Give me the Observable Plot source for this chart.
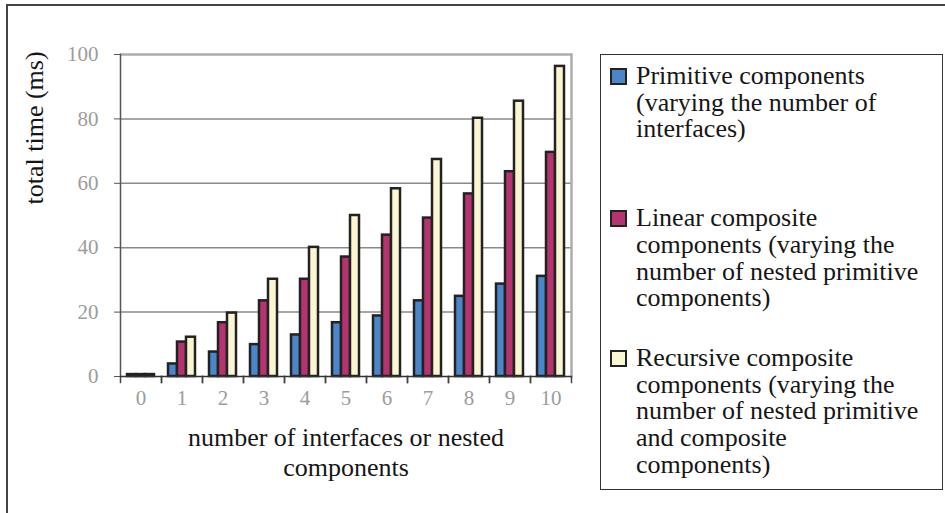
<!DOCTYPE html>
<html><head><meta charset="utf-8">
<script src="https://cdn.jsdelivr.net/npm/d3@7"></script>
<script src="https://cdn.jsdelivr.net/npm/@observablehq/plot@0.6"></script>
<style>
body{margin:0;background:#fff;font-family:"Liberation Serif","Times New Roman",serif;}
#wrap{position:relative;width:945px;height:513px;overflow:hidden;background:#fff;}
#frame{position:absolute;left:6px;top:4px;width:960px;height:540px;border-top:2px solid #444;border-left:2px solid #444;}
#chart{position:absolute;left:0;top:0;}
#legend{position:absolute;left:600px;top:54px;width:343px;height:436px;border:1.5px solid #333;box-sizing:border-box;background:#fff;}
.entry{position:relative;padding-left:35px;font-size:26px;line-height:26.7px;color:#161616;white-space:nowrap;}
.sw{position:absolute;left:9px;top:5px;width:13px;height:13px;border:2px solid #222;}
</style></head>
<body><div id="wrap"><div id="frame"></div><div id="chart"></div><div id="legend"></div></div>
<script>
const categories = ["0","1","2","3","4","5","6","7","8","9","10"];
const seriesNames = ["Primitive", "Linear", "Recursive"];
const primitive = [0.6, 3.9, 7.6, 9.9, 12.9, 16.7, 18.8, 23.5, 24.9, 28.7, 31.1];
const linear    = [0.6, 10.7, 16.7, 23.5, 30.2, 37.1, 43.9, 49.2, 56.7, 63.6, 69.6];
const recursive = [0.6, 12.2, 19.7, 30.2, 40.1, 50.0, 58.3, 67.4, 80.2, 85.5, 96.3];
const yTicks = [0, 20, 40, 60, 80, 100];
const colors = ["#4a86c8", "#b5346f", "#faf6d3"];
const legendLabels = [
  ["Primitive components", "(varying the number of", "interfaces)"],
  ["Linear composite", "components (varying the", "number of nested primitive", "components)"],
  ["Recursive composite", "components (varying the", "number of nested primitive", "and composite", "components)"]
];
const legendGaps = [8, 62, 33];
const yTitle = "total time (ms)";
const xTitle = "number of interfaces or nested\ncomponents";

const seriesValues = [primitive, linear, recursive];
const data = categories.flatMap((c, i) => seriesNames.map((s, j) => ({cat: c, series: s, value: seriesValues[j][i]})));

const plot = Plot.plot({
  width: 595, height: 513,
  marginLeft: 117, marginRight: 22, marginTop: 54, marginBottom: 137,
  style: {fontFamily: "'Liberation Serif', serif", fontSize: "21px", background: "transparent", overflow: "visible"},
  fx: {domain: categories, padding: 0, label: null},
  x: {domain: seriesNames, paddingInner: 0, paddingOuter: 0.72, axis: null},
  y: {domain: [0, 100], label: null},
  color: {domain: seriesNames, range: colors},
  marks: [
    Plot.gridY(yTicks.filter(v => v > 0 && v < 100), {stroke: "#8a8a8a", strokeOpacity: 1, strokeWidth: 1.5}),
    Plot.ruleY([100], {stroke: "#adadad", strokeWidth: 2.5}),
    Plot.frame({anchor: "right", fx: () => "10", stroke: "#adadad", strokeWidth: 2.5}),
    Plot.frame({anchor: "left", fx: () => "0", stroke: "#555", strokeWidth: 1.5}),
    Plot.frame({anchor: "left", insetTop: 322, insetBottom: -6, stroke: "#444", strokeWidth: 1.5}),
    Plot.frame({anchor: "right", insetTop: 322, insetBottom: -6, stroke: "#444", strokeWidth: 1.5}),
    Plot.barY(data, {fx: "cat", x: "series", y: "value", fill: "series", stroke: "#222", strokeWidth: 2.5}),
    Plot.ruleY([0], {stroke: "#333", strokeWidth: 1.5}),
    Plot.axisY({ticks: yTicks, tickSize: 6, tickPadding: 16, stroke: "#555", fill: "#9c9c9c", fontSize: 21, label: null}),
    Plot.axisFx({anchor: "bottom", tickSize: 0, tickPadding: 14, fill: "#9c9c9c", fontSize: 21, label: null}),
    Plot.text([yTitle], {facet: "super", frameAnchor: "left", rotate: -90, dx: -86, dy: -11, fill: "#161616", fontSize: 26}),
    Plot.text([xTitle], {facet: "super", frameAnchor: "bottom", lineAnchor: "top", dy: 48, lineHeight: 1.15, fill: "#161616", fontSize: 26})
  ]
});
document.getElementById("chart").appendChild(plot);

const legend = document.getElementById("legend");
legendLabels.forEach((lines, i) => {
  const e = document.createElement("div");
  e.className = "entry";
  e.style.marginTop = legendGaps[i] + "px";
  const sw = document.createElement("div");
  sw.className = "sw";
  sw.style.background = colors[i];
  e.appendChild(sw);
  lines.forEach((t, k) => {
    if (k) e.appendChild(document.createElement("br"));
    e.appendChild(document.createTextNode(t));
  });
  legend.appendChild(e);
});
</script>
</body></html>
